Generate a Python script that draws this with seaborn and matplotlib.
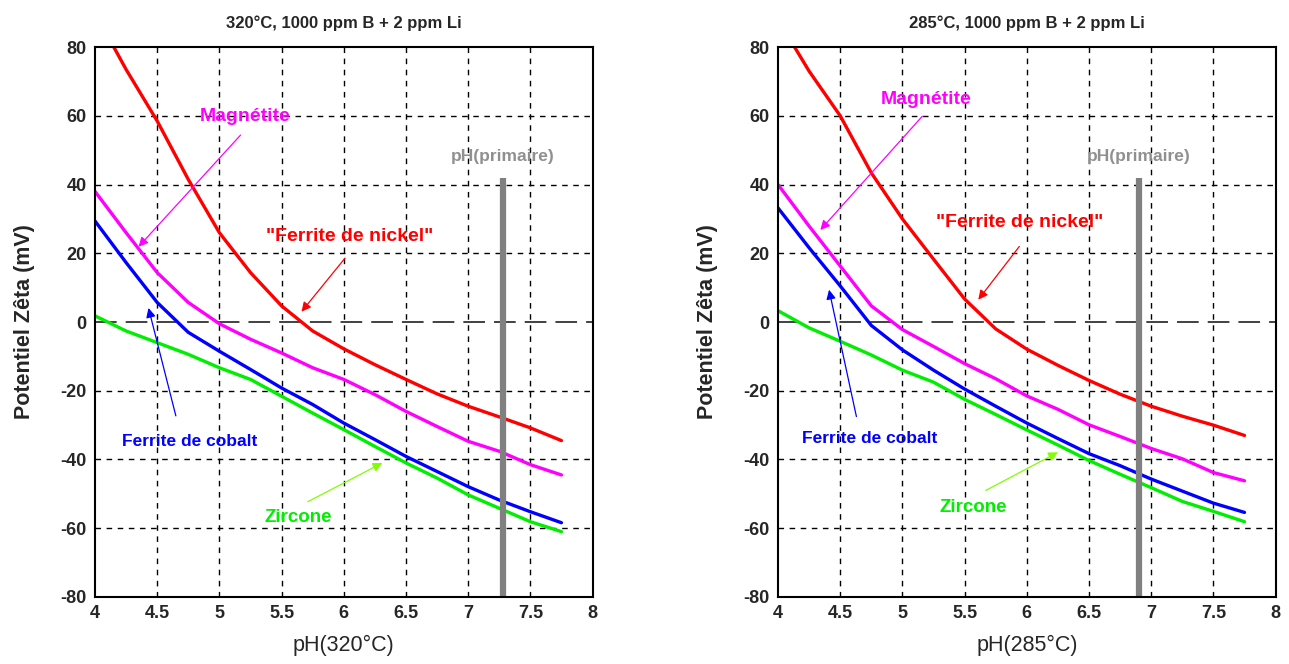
import matplotlib
matplotlib.use("Agg")
import matplotlib.pyplot as plt
import seaborn as sns

# pH grid (common to all curves)
ph = [4.0, 4.25, 4.5, 4.75, 5.0, 5.25, 5.5, 5.75, 6.0, 6.25, 6.5, 6.75, 7.0, 7.25, 7.5, 7.75]

# 320 °C
nickel_320 = [90, 73.5, 58.5, 41.5, 26, 14.4, 4.7, -2.6, -7.8, -12.4, -16.7, -20.9, -24.5, -27.6, -30.8, -34.5]
magnetite_320 = [38, 26, 14.4, 5.7, -0.5, -5, -9, -13.3, -16.7, -21.1, -26, -30.4, -34.7, -37.6, -41.5, -44.5]
cobalt_320 = [29.4, 17.3, 5.7, -3, -8.5, -13.8, -19.2, -24, -29.4, -34.2, -39.1, -43.5, -47.9, -51.8, -55.2, -58.4]
zircone_320 = [1.8, -2.6, -6, -9.4, -13.3, -16.7, -21.6, -26.5, -31.3, -36.2, -41, -45.4, -50.3, -54.2, -58.1, -61]
ph_prim_320 = 7.28

# 285 °C
nickel_285 = [88, 73, 60, 43.4, 30, 18.3, 6.7, -2, -7.9, -12.6, -17, -21, -24.5, -27.4, -30, -33]
magnetite_285 = [40, 27.9, 16.3, 4.7, -2.2, -7.1, -12.1, -16.5, -21.5, -25.4, -29.9, -33.3, -36.8, -39.8, -43.8, -46.2]
cobalt_285 = [33.2, 21.6, 10.5, -1, -8.1, -14, -19.5, -24.5, -29.4, -33.9, -38.3, -41.8, -45.7, -49.2, -52.7, -55.4]
zircone_285 = [3.3, -1.7, -5.6, -9.6, -14, -17.5, -22.5, -26.9, -31.4, -35.8, -40.3, -44.3, -48.2, -52.2, -55.1, -58.1]
ph_prim_285 = 6.90

titles = ["320°C, 1000 ppm B + 2 ppm Li", "285°C, 1000 ppm B + 2 ppm Li"]
xlabels = ["pH(320°C)", "pH(285°C)"]
xticks = [4, 4.5, 5, 5.5, 6, 6.5, 7, 7.5, 8]
xticklabels = ["4", "4.5", "5", "5.5", "6", "6.5", "7", "7.5", "8"]
yticks = [-80, -60, -40, -20, 0, 20, 40, 60, 80]

sns.set_style("white")
plt.rcParams['font.family'] = ['Liberation Sans', 'DejaVu Sans']
plt.rcParams['axes.unicode_minus'] = False
NARROW = ['Liberation Sans Narrow', 'Liberation Sans', 'DejaVu Sans']

# annotation positions: (text xy, arrow start, arrow tip) per panel
ann = [
    {
        "mag": ((5.21, 59.7), (5.17, 54.4), (4.35, 21.9)),
        "nick": ((6.05, 24.8), (6.01, 18.6), (5.66, 3.0)),
        "cob": ((4.76, -34.8), (4.65, -27.3), (4.43, 4.1)),
        "zir": ((5.63, -56.9), (5.71, -52.3), (6.31, -41.0)),
    },
    {
        "mag": ((5.19, 64.8), (5.16, 59.9), (4.34, 26.8)),
        "nick": ((5.94, 28.9), (5.94, 22.0), (5.61, 6.5)),
        "cob": ((4.74, -34.0), (4.63, -27.5), (4.41, 9.4)),
        "zir": ((5.57, -54.0), (5.67, -49.0), (6.25, -37.9)),
    },
]

fig = plt.figure(figsize=(12.89, 6.64), dpi=100)
axes = [fig.add_axes([0.0737, 0.101, 0.386, 0.828]),
        fig.add_axes([0.6036, 0.101, 0.386, 0.828])]

panels = [
    (nickel_320, magnetite_320, cobalt_320, zircone_320, ph_prim_320),
    (nickel_285, magnetite_285, cobalt_285, zircone_285, ph_prim_285),
]

for i, ax in enumerate(axes):
    nick, mag, cob, zir, prim = panels[i]

    # grid
    for gx in xticks[1:-1]:
        ax.axvline(gx, color='black', lw=1, ls=(0, (4, 4)), zorder=1)
    for gy in yticks[1:-1]:
        if gy == 0:
            ax.axhline(0, color='#333333', lw=1.3, ls=(0, (12, 5)), zorder=1)
        else:
            ax.axhline(gy, color='black', lw=1, ls=(0, (4, 4)), zorder=1)

    sns.lineplot(x=ph, y=nick, ax=ax, color='#ff0000', lw=2.4, zorder=3)
    sns.lineplot(x=ph, y=mag, ax=ax, color='#ff00ff', lw=2.4, zorder=3)
    sns.lineplot(x=ph, y=cob, ax=ax, color='#0000ff', lw=2.4, zorder=3)
    sns.lineplot(x=ph, y=zir, ax=ax, color='#00ee00', lw=2.4, zorder=3)

    # primary pH marker
    ax.plot([prim, prim], [-80, 42], color='#808080', lw=4.5, zorder=4, solid_capstyle='butt')
    ax.text(prim, 48.3, "pH(primaire)", color='#909090', fontsize=12.5, fontweight='bold',
            family=NARROW, ha='center', va='center', zorder=5)

    a = ann[i]
    specs = [("mag", "Magnétite", '#ff00ff', '#ff00ff', 14),
             ("nick", "\"Ferrite de nickel\"", '#ff0000', '#ff0000', 14),
             ("cob", "Ferrite de cobalt", '#0000ff', '#0000ff', 12.5),
             ("zir", "Zircone", '#00ee00', '#80ff00', 13.5)]
    for key, label, tcol, acol, fs in specs:
        txy, start, tip = a[key]
        ax.text(txy[0], txy[1], label, color=tcol, fontsize=fs, fontweight='bold',
                family=NARROW, ha='center', va='center', zorder=5)
        ax.annotate("", xy=tip, xytext=start,
                    arrowprops=dict(arrowstyle='-|>', color=acol, lw=0.9,
                                    mutation_scale=14, shrinkA=0, shrinkB=0),
                    zorder=5)

    ax.set_xlim(4, 8)
    ax.set_ylim(-80, 80)
    ax.set_xticks(xticks)
    ax.set_xticklabels(xticklabels)
    ax.set_yticks(yticks)
    for lab in ax.get_xticklabels() + ax.get_yticklabels():
        lab.set_family(NARROW)
        lab.set_fontweight('bold')
        lab.set_fontsize(13)
    ax.tick_params(axis='both', length=0, pad=6)
    for sp in ax.spines.values():
        sp.set_color('black')
        sp.set_linewidth(1.5)
        sp.set_zorder(6)

    ax.set_title(titles[i], fontsize=12, fontweight='bold', family=NARROW, pad=14)
    ax.set_xlabel(xlabels[i], fontsize=15.5, labelpad=9)
    ax.set_ylabel("Potentiel Zêta (mV)", fontsize=15.5, fontweight='bold', labelpad=18)

fig.savefig("out.png", dpi=100)
